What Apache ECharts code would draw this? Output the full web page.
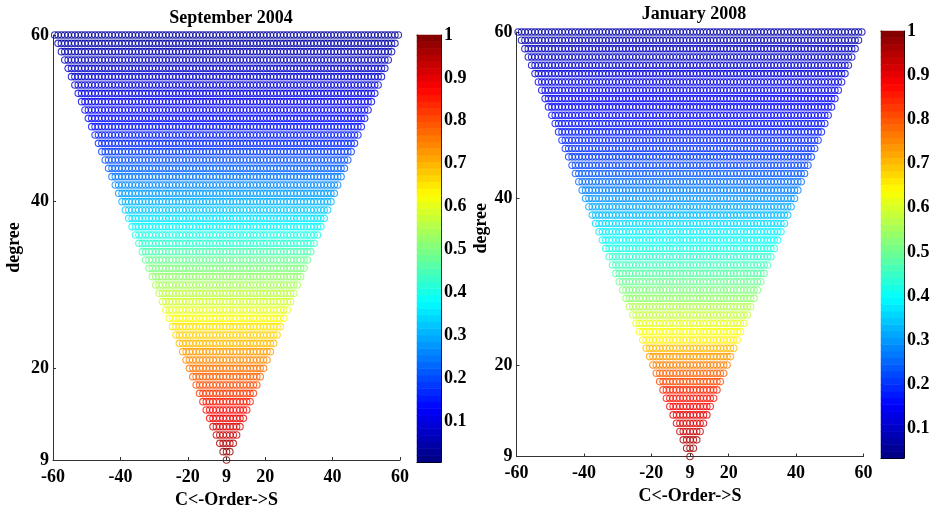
<!DOCTYPE html>
<html>
<head>
<meta charset="utf-8">
<script src="https://cdn.jsdelivr.net/npm/echarts@6/dist/echarts.min.js"></script>
<style>
  html, body { margin: 0; padding: 0; background: #fff; }
  #main { width: 930px; height: 506px; }
</style>
</head>
<body>
<div id="main"></div>
<script>
// rows of the triangle, bottom (9) to top (60)
const degrees = [9, 10, 11, 12, 13, 14, 15, 16, 17, 18, 19, 20, 21, 22, 23, 24, 25, 26, 27, 28,
  29, 30, 31, 32, 33, 34, 35, 36, 37, 38, 39, 40, 41, 42, 43, 44, 45, 46, 47, 48,
  49, 50, 51, 52, 53, 54, 55, 56, 57, 58, 59, 60];

// colour level (0..1 on the colormap) of each row
const sep2004 = [1.0, 0.98, 0.95, 0.93, 0.91, 0.89, 0.87, 0.85, 0.82, 0.80, 0.78, 0.76, 0.74, 0.72,
  0.69, 0.67, 0.65, 0.62, 0.60, 0.58, 0.56, 0.54, 0.52, 0.50, 0.48, 0.45, 0.42, 0.40, 0.37, 0.35,
  0.32, 0.30, 0.28, 0.26, 0.24, 0.22, 0.20, 0.18, 0.16, 0.15, 0.14, 0.13, 0.12, 0.11, 0.10, 0.09,
  0.08, 0.07, 0.06, 0.05, 0.04, 0.03];
const jan2008 = [1.0, 0.97, 0.95, 0.93, 0.91, 0.90, 0.88, 0.86, 0.84, 0.80, 0.78, 0.75, 0.72, 0.69,
  0.64, 0.62, 0.60, 0.57, 0.55, 0.52, 0.50, 0.48, 0.46, 0.44, 0.42, 0.40, 0.38, 0.36, 0.34, 0.31,
  0.29, 0.27, 0.25, 0.23, 0.21, 0.19, 0.18, 0.17, 0.16, 0.15, 0.14, 0.13, 0.125, 0.12, 0.11, 0.10,
  0.09, 0.08, 0.07, 0.06, 0.05, 0.04];

// x axis: positions along the order index (centre = 0) and their labels
const xTickPos = [-51.5, -31.5, -11.5, 0, 11.5, 31.5, 51.5];
const xTickLabels = ['-60', '-40', '-20', '9', '20', '40', '60'];
const yTicks = [9, 20, 40, 60];
const cbTicks = [0.1, 0.2, 0.3, 0.4, 0.5, 0.6, 0.7, 0.8, 0.9, 1];
const cbRangeLeft = [0.005, 1];
const cbRangeRight = [0.034, 1];
const cmapLevels = 64;

const FONT = 'Liberation Serif';

function jet(v) {
  v = Math.max(0, Math.min(1, v));
  const c = (x) => Math.round(255 * Math.max(0, Math.min(1, x)));
  return 'rgb(' + c(1.5 - Math.abs(4 * v - 3)) + ',' + c(1.5 - Math.abs(4 * v - 2)) + ',' + c(1.5 - Math.abs(4 * v - 1)) + ')';
}

// each row d holds 2*(d-9)+1 circles centred on the apex
function buildRows(levels) {
  const out = [];
  degrees.forEach((d, i) => {
    const col = jet(levels[i]);
    for (let k = -(d - 9); k <= d - 9; k++) {
      out.push({ value: [k, d], itemStyle: { borderColor: col } });
    }
  });
  return out;
}

const cbCells = [];
for (let i = 0; i < cmapLevels; i++) {
  cbCells.push({ value: [0, i, i], itemStyle: { color: jet((i + 0.5) / cmapLevels) } });
}
const cbCats = cbCells.map((c, i) => String(i));

const lbl = { fontFamily: FONT, fontWeight: 'bold', fontSize: 18, color: '#000' };
const axisLineStyle = { lineStyle: { color: '#333', width: 1 } };

function scatterX(gridIndex) {
  return {
    type: 'value', gridIndex, min: -51.5, max: 51.5,
    name: 'C<-Order->S', nameLocation: 'middle', nameGap: 31,
    nameTextStyle: { ...lbl },
    splitLine: { show: false },
    axisLine: { show: true, onZero: false, ...axisLineStyle },
    axisTick: { show: true, inside: true, length: 3, customValues: xTickPos, lineStyle: { color: '#333' } },
    axisLabel: { ...lbl, margin: 8, customValues: xTickPos,
      formatter: (v) => xTickLabels[xTickPos.indexOf(v)] }
  };
}
function scatterY(gridIndex, nameGap, pad) {
  return {
    type: 'value', gridIndex, min: 9, max: 60,
    name: 'degree', nameLocation: 'middle', nameGap,
    nameTextStyle: { ...lbl, padding: pad },
    splitLine: { show: false },
    axisLine: { show: true, onZero: false, ...axisLineStyle },
    axisTick: { show: true, inside: true, length: 3, customValues: yTicks, lineStyle: { color: '#333' } },
    axisLabel: { ...lbl, margin: 4, customValues: yTicks }
  };
}
function cbXAxes(gridIndex) {
  return [
    { type: 'category', gridIndex, data: ['c'], axisLine: { show: true, lineStyle: { color: '#000' } },
      axisTick: { show: false }, axisLabel: { show: false } },
    { type: 'value', gridIndex, position: 'top', min: 0, max: 1,
      axisLine: { show: true, onZero: false, lineStyle: { color: '#000' } }, axisTick: { show: false },
      axisLabel: { show: false }, splitLine: { show: false } }
  ];
}
function cbYAxes(gridIndex, range) {
  return [
    { type: 'category', gridIndex, data: cbCats, show: false },
    { type: 'value', gridIndex, position: 'right', min: range[0], max: range[1],
      axisLine: { show: true, onZero: false, lineStyle: { color: '#000' } }, splitLine: { show: false },
      axisTick: { show: true, inside: true, length: 3, customValues: cbTicks, lineStyle: { color: '#000' } },
      axisLabel: { ...lbl, margin: 3, customValues: cbTicks } },
    { type: 'value', gridIndex, position: 'left', min: range[0], max: range[1],
      axisLine: { show: true, onZero: false, lineStyle: { color: '#000' } }, splitLine: { show: false },
      axisTick: { show: true, inside: true, length: 3, customValues: cbTicks, lineStyle: { color: '#000' } },
      axisLabel: { show: false } }
  ];
}

const chart = echarts.init(document.getElementById('main'));
chart.setOption({
  animation: false,
  backgroundColor: '#fff',
  title: [
    { text: 'September 2004', left: 226, top: 4, textAlign: 'center',
      textStyle: { ...lbl } },
    { text: 'January 2008', left: 689, top: 0, textAlign: 'center',
      textStyle: { ...lbl } }
  ],
  grid: [
    { left: 53, top: 35, width: 347, height: 425, outerBoundsMode: 'none' },
    { left: 417, top: 35, width: 24, height: 427, outerBoundsMode: 'none' },
    { left: 516.5, top: 32, width: 347, height: 424.5, outerBoundsMode: 'none' },
    { left: 881, top: 31, width: 23, height: 427, outerBoundsMode: 'none' }
  ],
  xAxis: [scatterX(0), ...cbXAxes(1), scatterX(2), ...cbXAxes(3)],
  yAxis: [scatterY(0, 30, 0), ...cbYAxes(1, cbRangeLeft), scatterY(2, 18, [0, 0, 0, 32]), ...cbYAxes(3, cbRangeRight)],
  series: [
    { type: 'scatter', xAxisIndex: 0, yAxisIndex: 0, symbol: 'circle', symbolSize: 6.5, clip: false,
      itemStyle: { color: 'rgba(0,0,0,0)', borderWidth: 1.1 }, emphasis: { disabled: true },
      data: buildRows(sep2004) },
    { type: 'heatmap', xAxisIndex: 1, yAxisIndex: 1, data: cbCells, emphasis: { disabled: true } },
    { type: 'scatter', xAxisIndex: 3, yAxisIndex: 4, symbol: 'circle', symbolSize: 6.5, clip: false,
      itemStyle: { color: 'rgba(0,0,0,0)', borderWidth: 1.1 }, emphasis: { disabled: true },
      data: buildRows(jan2008) },
    { type: 'heatmap', xAxisIndex: 4, yAxisIndex: 5, data: cbCells, emphasis: { disabled: true } }
  ]
});
</script>
</body>
</html>
